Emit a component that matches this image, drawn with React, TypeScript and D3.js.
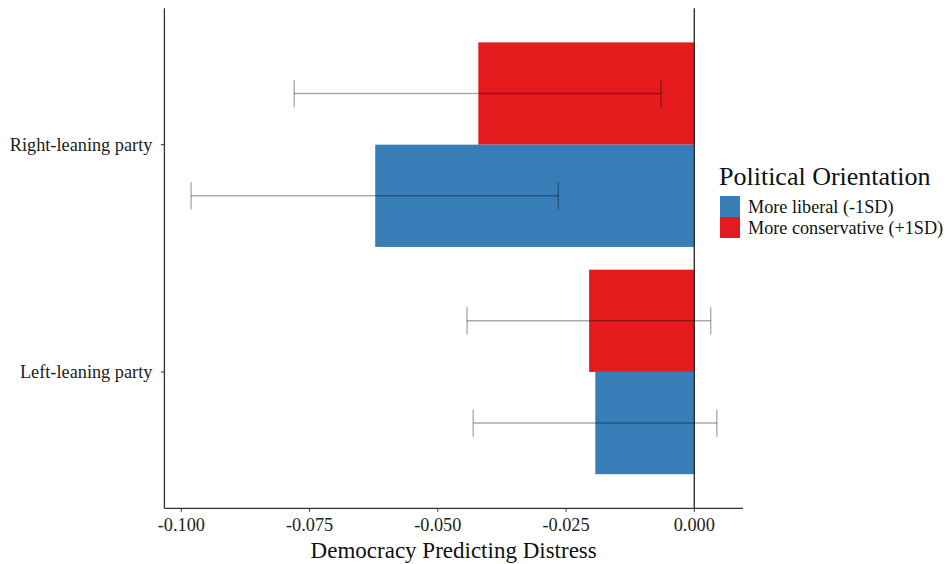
import React from "react";
import * as d3 from "d3";

const categories = ["Right-leaning party", "Left-leaning party"];
const liberal = [-0.0622, -0.0193];
const conservative = [-0.0421, -0.0205];
const liberalLow = [-0.0981, -0.0431];
const liberalHigh = [-0.0265, 0.0044];
const conservativeLow = [-0.078, -0.0443];
const conservativeHigh = [-0.0065, 0.0032];
const xTicks = [-0.1, -0.075, -0.05, -0.025, 0];
const legendLabels = ["More liberal (-1SD)", "More conservative (+1SD)"];

const BLUE = "#377EB8";
const RED = "#E41A1C";
const FONT = "'Liberation Serif', 'Times New Roman', serif";

export default function App() {
  const W = 947, H = 564;
  const left = 164.4, right = 743, top = 8.3, bottom = 508.3;
  const x = d3.scaleLinear().domain([-0.1033, 0.0095]).range([left, right]);
  const y = d3.scaleLinear().domain([0.4, categories.length + 0.6]).range([top, bottom]);
  const dodge = 0.45;
  const cap = 0.06;

  const series = [
    { vals: conservative, lo: conservativeLow, hi: conservativeHigh, color: RED, off: -1 },
    { vals: liberal, lo: liberalLow, hi: liberalHigh, color: BLUE, off: 1 },
  ];

  return (
    <svg width={W} height={H} style={{ position: "absolute", left: 0, top: 0, background: "#fff" }} fontFamily={FONT}>
      <rect x={0} y={0} width={W} height={H} fill="#fff" />
      {series.map((s, si) =>
        categories.map((c, i) => {
          const yc = i + 1;
          const y0 = s.off < 0 ? y(yc - dodge) : y(yc);
          const y1 = s.off < 0 ? y(yc) : y(yc + dodge);
          const x0 = x(Math.min(0, s.vals[i]));
          const x1 = x(Math.max(0, s.vals[i]));
          return <rect key={`b${si}-${i}`} x={x0} y={y0} width={x1 - x0} height={y1 - y0} fill={s.color} />;
        })
      )}
      {/* zero line */}
      <line x1={x(0)} x2={x(0)} y1={top} y2={bottom} stroke="#222" strokeWidth={1.3} />
      {series.map((s, si) =>
        categories.map((c, i) => {
          const ym = i + 1 + (s.off * dodge) / 2;
          const xl = x(s.lo[i]), xh = x(s.hi[i]);
          return (
            <g key={`e${si}-${i}`} stroke="#000" strokeOpacity={0.33} strokeWidth={1.4}>
              <line x1={xl} x2={xh} y1={y(ym)} y2={y(ym)} />
              <line x1={xl} x2={xl} y1={y(ym - cap)} y2={y(ym + cap)} />
              <line x1={xh} x2={xh} y1={y(ym - cap)} y2={y(ym + cap)} />
            </g>
          );
        })
      )}
      {/* axes */}
      <line x1={left} x2={left} y1={top} y2={bottom} stroke="#333" strokeWidth={1.3} />
      <line x1={left} x2={right} y1={bottom} y2={bottom} stroke="#333" strokeWidth={1.3} />
      {xTicks.map((t) => (
        <g key={`xt${t}`}>
          <line x1={x(t)} x2={x(t)} y1={bottom} y2={bottom + 3.5} stroke="#333" strokeWidth={1} />
          <text x={x(t)} y={bottom + 23} textAnchor="middle" fontSize={18.3} fill="#222">
            {d3.format(".3f")(t).replace("−", "-")}
          </text>
        </g>
      ))}
      {categories.map((c, i) => (
        <g key={`yt${i}`}>
          <line x1={left - 3.5} x2={left} y1={y(i + 1)} y2={y(i + 1)} stroke="#333" strokeWidth={1} />
          <text x={left - 12} y={y(i + 1)} dy="0.35em" textAnchor="end" fontSize={18.3} fill="#222">
            {c}
          </text>
        </g>
      ))}
      <text x={(left + right) / 2} y={558} textAnchor="middle" fontSize={23} fill="#111">
        Democracy Predicting Distress
      </text>
      {/* legend */}
      <text x={719} y={185} fontSize={26} fill="#111">Political Orientation</text>
      {[BLUE, RED].map((col, k) => (
        <g key={`lg${k}`}>
          <rect x={720} y={196 + k * 21} width={20} height={21} fill={col} />
          <text x={748} y={196 + k * 21 + 10.5} dy="0.35em" fontSize={18.2} fill="#111">
            {legendLabels[k]}
          </text>
        </g>
      ))}
    </svg>
  );
}
